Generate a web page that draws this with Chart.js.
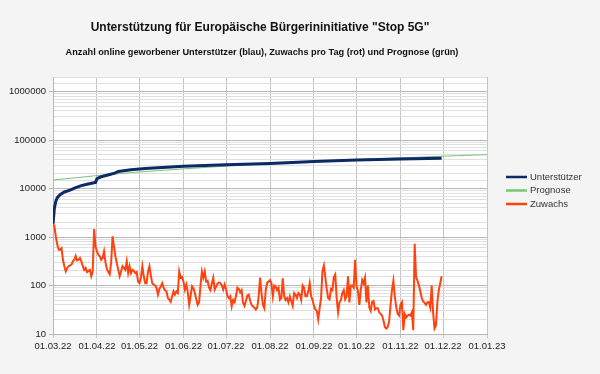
<!DOCTYPE html>
<html lang="de">
<head>
    <meta charset="UTF-8">
    <title>Stop 5G Unterstützer</title>
    <script src="https://cdn.jsdelivr.net/npm/chart.js"></script>
    <style>
        body { margin: 0; background: #f4f4f4; }
        canvas { display: block; }
    </style>
</head>
<body>
    <canvas id="chart" width="600" height="374"></canvas>

    <script>
        // Monatsanfänge (Tage ab 01.03.22) und Beschriftung der x-Achse
        const monthDays = [0, 31, 61, 92, 122, 153, 184, 214, 245, 275, 306];
        const monthLabels = ['01.03.22', '01.04.22', '01.05.22', '01.06.22', '01.07.22', '01.08.22',
                             '01.09.22', '01.10.22', '01.11.22', '01.12.22', '01.01.23'];

        // Unterstützer (kumuliert)
        const uDays = [0, 1, 2, 3, 5, 8, 12, 16, 20, 24, 28, 30, 31, 34, 40, 44, 46, 55, 65, 80, 92, 122, 153, 184, 214, 245, 274];
        const uValues = [1880, 4000, 5500, 6500, 7500, 8500, 9300, 10500, 11500, 12300, 13000, 13400, 16000, 17500,
                         19500, 21000, 22500, 24500, 26000, 27500, 28800, 31000, 33000, 36000, 39000, 40800, 42000];

        // Prognose an den Monatsanfängen
        const pValues = [15000, 18500, 22000, 25500, 29000, 32500, 36000, 39500, 43000, 46500, 50000];

        // Zuwachs pro Tag, ab 01.03.22
        const zuwachs = [
            1880, 1660, 1030, 700, 550, 550, 590, 340, 250, 195,
            230, 250, 260, 270, 315, 340, 410, 330, 340, 370,
            315, 250, 210, 230, 190, 200, 210, 155, 195, 1460,
            640, 505, 430, 400, 340, 370, 505, 300, 220, 190,
            170, 300, 1030, 640, 400, 290, 210, 155, 195, 250,
            230, 210, 315, 180, 250, 180, 210, 200, 180, 190,
            120, 112, 145, 250, 155, 112, 112, 195, 250, 160,
            110, 105, 100, 89, 65, 85, 96, 112, 90, 80,
            76, 55, 51, 46, 60, 76, 65, 76, 70, 195,
            145, 150, 120, 82, 105, 75, 40, 60, 96, 89,
            70, 52, 40, 45, 100, 195, 145, 195, 120, 125,
            90, 80, 112, 145, 82, 95, 110, 115, 112, 100,
            82, 105, 85, 60, 55, 60, 37, 50, 45, 60,
            90, 85, 72, 80, 44, 38, 48, 62, 65, 48,
            40, 37, 35, 32, 35, 60, 145, 70, 40, 34,
            80, 115, 120, 130, 112, 60, 100, 95, 80, 90,
            51, 55, 140, 60, 50, 55, 45, 60, 48, 38,
            70, 65, 55, 70, 65, 50, 100, 90, 60, 60,
            76, 112, 60, 50, 38, 32, 30, 20, 34, 55,
            200, 260, 150, 85, 55, 52, 85, 80, 150, 170,
            55, 28, 45, 50, 70, 80, 52, 60, 155, 45,
            100, 100, 90, 340, 96, 78, 40, 80, 130, 110,
            145, 45, 100, 35, 30, 46, 48, 32, 34, 34,
            28, 26, 24, 19, 14, 13, 14, 18, 40, 80,
            125, 60, 36, 26, 24, 40, 45, 12, 26, 22,
            24, 25, 24, 28, 12, 730, 150, 125, 100, 75,
            55, 47, 44, 40, 45, 45, 35, 100, 28, 13,
            15, 45, 80, 110, 155
        ];

        const FONT = '"Liberation Sans", Arial, sans-serif';

        // Titel, weißer Plotbereich und Legende rechts
        const decor = {
            id: 'decor',
            beforeDraw(chart) {
                const { ctx, chartArea: a } = chart;
                ctx.save();
                ctx.fillStyle = '#ffffff';
                ctx.fillRect(a.left, a.top, a.right - a.left, a.bottom - a.top);
                ctx.fillStyle = '#111111';
                ctx.textAlign = 'center';
                ctx.textBaseline = 'middle';
                ctx.font = 'bold 12px ' + FONT;
                ctx.fillText('Unterstützung für Europäische Bürgerininitiative "Stop 5G"', 260, 28);
                ctx.font = 'bold 9.2px ' + FONT;
                ctx.fillText('Anzahl online geworbener Unterstützer (blau), Zuwachs pro Tag (rot) und Prognose (grün)', 262, 52);
                ctx.restore();
            },
            afterDraw(chart) {
                const { ctx, chartArea: a } = chart;
                ctx.save();
                ctx.font = '9.5px ' + FONT;
                ctx.textBaseline = 'middle';
                ctx.textAlign = 'left';
                chart.data.datasets.forEach((ds, i) => {
                    const y = 177 + i * 13.5;
                    ctx.strokeStyle = ds.borderColor;
                    ctx.lineWidth = 2.5;
                    ctx.beginPath();
                    ctx.moveTo(a.right + 19, y);
                    ctx.lineTo(a.right + 40, y);
                    ctx.stroke();
                    ctx.fillStyle = '#333333';
                    ctx.fillText(ds.label, a.right + 43, y);
                });
                ctx.restore();
            }
        };

        const isMajor = v => Math.abs(Math.log10(v) - Math.round(Math.log10(v))) < 1e-9;

        const ctx = document.getElementById('chart').getContext('2d');
        const chart = new Chart(ctx, {
            type: 'line',
            data: {
                datasets: [{
                    label: 'Unterstützer',
                    data: uDays.map((d, i) => ({ x: d, y: uValues[i] })),
                    borderColor: '#0b2a66',
                    borderWidth: 3
                }, {
                    label: 'Prognose',
                    data: monthDays.map((d, i) => ({ x: d, y: pValues[i] })),
                    borderColor: '#7cc47c',
                    borderWidth: 1
                }, {
                    label: 'Zuwachs',
                    data: zuwachs.map((v, i) => ({ x: i, y: v })),
                    borderColor: '#ff420e',
                    borderWidth: 2
                }]
            },
            options: {
                responsive: false,
                animation: false,
                elements: { point: { radius: 0 }, line: { tension: 0 } },
                layout: { padding: { top: 77, right: 113, bottom: 0, left: 0 } },
                plugins: {
                    legend: { display: false },
                    tooltip: { enabled: false }
                },
                scales: {
                    x: {
                        type: 'linear',
                        min: 0,
                        max: 306,
                        afterBuildTicks: s => { s.ticks = monthDays.map(v => ({ value: v })); },
                        afterFit: s => { s.height = 40; },
                        ticks: {
                            autoSkip: false,
                            maxRotation: 0,
                            padding: 3,
                            color: '#222222',
                            font: { family: FONT, size: 9.5 },
                            callback: v => monthLabels[monthDays.indexOf(v)]
                        },
                        grid: { color: '#c4c4c4', tickLength: 4, tickColor: '#c4c4c4' },
                        border: { color: '#b8b8b8' }
                    },
                    y: {
                        type: 'logarithmic',
                        min: 10,
                        max: 2000000,
                        afterFit: s => { s.width = 53; },
                        ticks: {
                            autoSkip: false,
                            padding: 3,
                            color: '#222222',
                            font: { family: FONT, size: 9.5 },
                            callback: v => isMajor(v) ? String(Math.round(v)) : ''
                        },
                        grid: {
                            color: c => isMajor(c.tick.value) ? '#b8b8b8' : '#e0e0e0',
                            tickLength: 4,
                            tickColor: c => isMajor(c.tick.value) ? '#b8b8b8' : 'rgba(0,0,0,0)'
                        },
                        border: { color: '#b8b8b8' }
                    }
                }
            },
            plugins: [decor]
        });
    </script>
</body>
</html>
